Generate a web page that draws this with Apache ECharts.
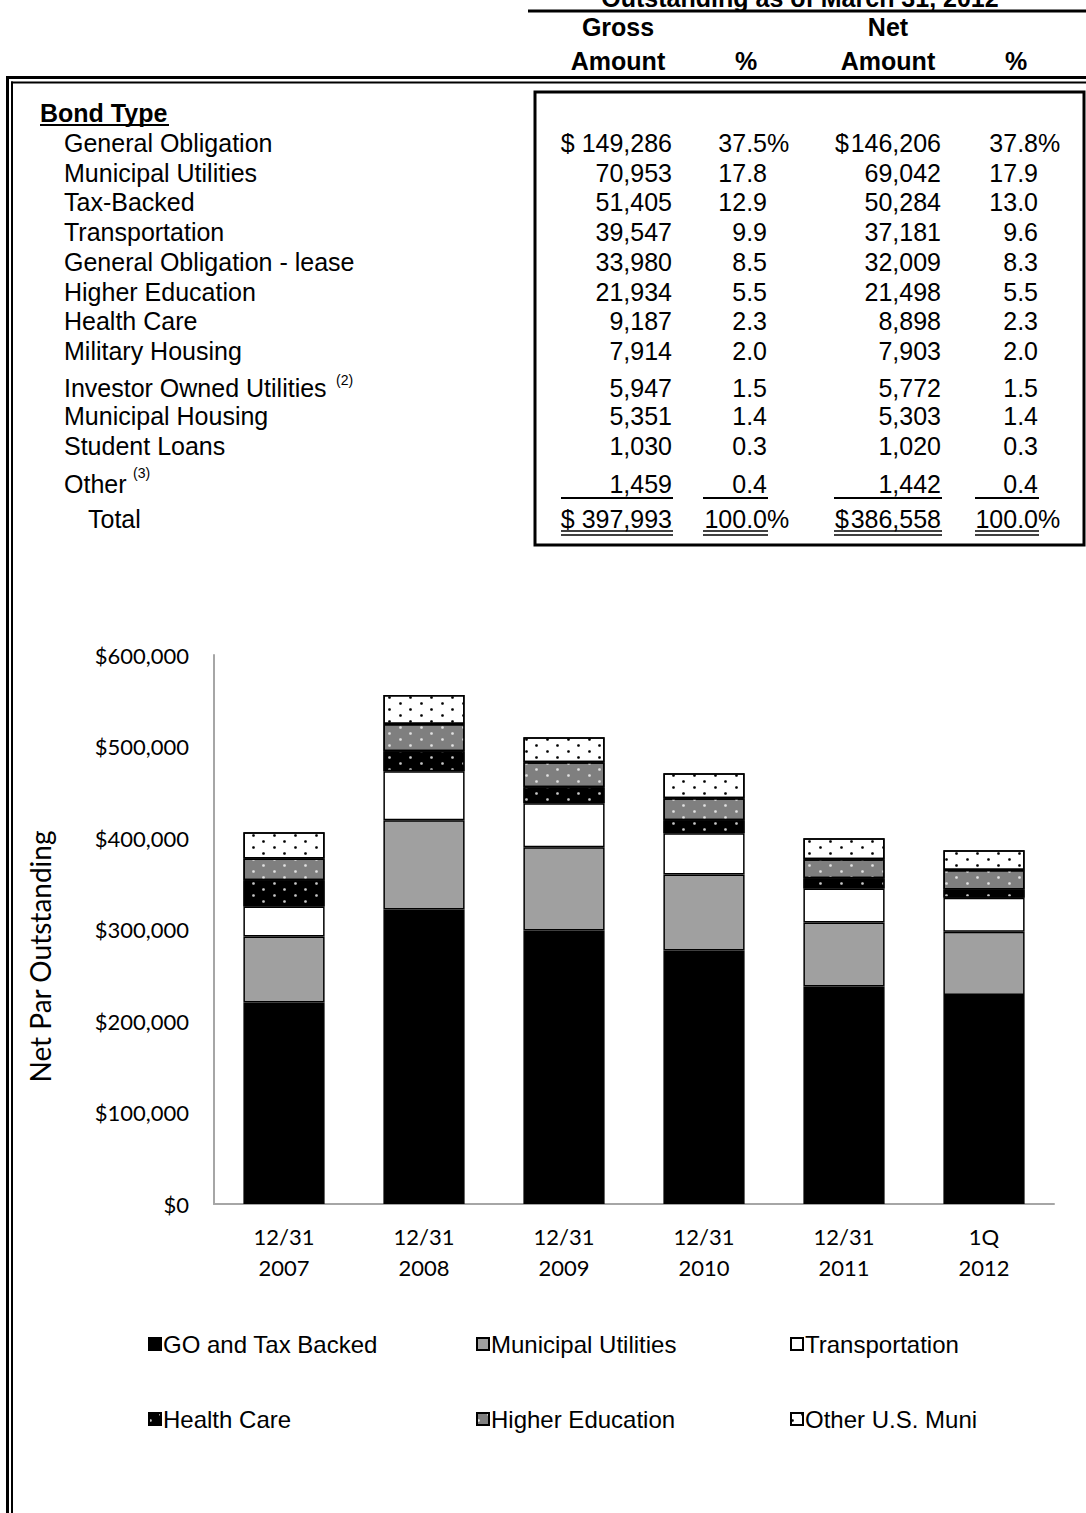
<!DOCTYPE html>
<html><head><meta charset="utf-8">
<script src="https://cdn.jsdelivr.net/npm/echarts@6/dist/echarts.min.js"></script>
<style>html,body{margin:0;padding:0;background:#fff}#c{width:1086px;height:1513px}</style>
</head><body><div id="c"></div>
<script>
// ---------- Table data ----------
const tableTitle = 'Outstanding as of March 31, 2012';
const bondTypes = ['General Obligation', 'Municipal Utilities', 'Tax-Backed', 'Transportation',
  'General Obligation - lease', 'Higher Education', 'Health Care', 'Military Housing',
  'Investor Owned Utilities', 'Municipal Housing', 'Student Loans', 'Other'];
const footnotes = ['', '', '', '', '', '', '', '', '(2)', '', '', '(3)'];
const grossAmount = [149286, 70953, 51405, 39547, 33980, 21934, 9187, 7914, 5947, 5351, 1030, 1459];
const grossPct = [37.5, 17.8, 12.9, 9.9, 8.5, 5.5, 2.3, 2.0, 1.5, 1.4, 0.3, 0.4];
const netAmount = [146206, 69042, 50284, 37181, 32009, 21498, 8898, 7903, 5772, 5303, 1020, 1442];
const netPct = [37.8, 17.9, 13.0, 9.6, 8.3, 5.5, 2.3, 2.0, 1.5, 1.4, 0.3, 0.4];
const grossTotal = 397993, netTotal = 386558, pctTotal = 100.0;

// ---------- Chart data ----------
const categories = ['12/31\n2007', '12/31\n2008', '12/31\n2009', '12/31\n2010', '12/31\n2011', '1Q\n2012'];
const seriesNames = ['GO and Tax Backed', 'Municipal Utilities', 'Transportation', 'Health Care', 'Higher Education', 'Other U.S. Muni'];
const goTaxBacked = [220100, 321900, 298900, 277000, 237600, 228499];
const municipalUtilities = [72200, 97500, 90900, 83200, 70100, 69042];
const transportation = [32900, 53600, 48200, 44900, 37200, 37181];
const healthCare = [28500, 21900, 17500, 14300, 11000, 8898];
const higherEducation = [24000, 29600, 27400, 24000, 20800, 21498];
const otherMuni = [28500, 31700, 27300, 27400, 22900, 21440];
const yTicks = [0, 100000, 200000, 300000, 400000, 500000, 600000];

// ---------- Layout ----------
const TF = '"Liberation Sans", Arial, sans-serif';
const CF = 'Lato, sans-serif';
const FS = 25;
const rowY = [143, 173, 202, 232, 262, 292, 321, 351, 388, 416, 446, 484];
const footX = {8: 336, 11: 133};
const footY = {8: 380, 11: 473};
const totalY = 519;
const fmt = v => v.toLocaleString('en-US');

const g = [];
function txt(x, y, s, o) {
  o = o || {};
  g.push({type: 'text', x: x, y: y, silent: true, style: {
    text: s, fill: '#000',
    font: (o.bold ? 'bold ' : '') + (o.size || FS) + 'px ' + TF,
    align: o.align || 'left', verticalAlign: 'middle'
  }});
}
function ln(x1, y1, x2, y2, w) {
  g.push({type: 'line', silent: true, shape: {x1: x1, y1: y1, x2: x2, y2: y2}, style: {stroke: '#000', lineWidth: w}});
}

// header
txt(800, -2, tableTitle, {bold: true, align: 'center'});
ln(528, 11, 1086, 11, 3);
txt(618, 27, 'Gross', {bold: true, align: 'center'});
txt(888, 27, 'Net', {bold: true, align: 'center'});
txt(618, 61, 'Amount', {bold: true, align: 'center'});
txt(746, 61, '%', {bold: true, align: 'center'});
txt(888, 61, 'Amount', {bold: true, align: 'center'});
txt(1016, 61, '%', {bold: true, align: 'center'});
// double frame lines
ln(6, 77.5, 1086, 77.5, 3);
ln(11, 82.5, 1086, 82.5, 2);
ln(7.5, 76, 7.5, 1513, 3);
ln(12, 81.5, 12, 1513, 2);
// box
g.push({type: 'rect', silent: true, shape: {x: 535, y: 92, width: 549, height: 453}, style: {fill: 'none', stroke: '#000', lineWidth: 3}});

txt(40, 113, 'Bond Type', {bold: true});
ln(40, 125, 169, 125, 2);

bondTypes.forEach((b, i) => {
  const y = rowY[i];
  txt(64, y, b);
  if (footnotes[i]) txt(footX[i], footY[i], footnotes[i], {size: 14});
  txt(672, y, (i === 0 ? '$ ' : '') + fmt(grossAmount[i]), {align: 'right'});
  txt(767, y, grossPct[i].toFixed(1), {align: 'right'});
  if (i === 0) txt(767, y, '%');
  if (i === 0) txt(835, y, '$');
  txt(941, y, fmt(netAmount[i]), {align: 'right'});
  txt(1038, y, netPct[i].toFixed(1), {align: 'right'});
  if (i === 0) txt(1038, y, '%');
});

// totals
txt(88, totalY, 'Total');
txt(672, totalY, '$ ' + fmt(grossTotal), {align: 'right'});
txt(767, totalY, pctTotal.toFixed(1), {align: 'right'});
txt(767, totalY, '%');
txt(835, totalY, '$');
txt(941, totalY, fmt(netTotal), {align: 'right'});
txt(1038, totalY, pctTotal.toFixed(1), {align: 'right'});
txt(1038, totalY, '%');
[[561, 673], [703, 768], [834, 942], [975, 1039]].forEach(r => {
  ln(r[0], 498, r[1], 498, 2);
  ln(r[0], 531, r[1], 531, 1.5);
  ln(r[0], 535, r[1], 535, 1.5);
});

// ---------- Chart ----------
function dots(color) {
  return {symbol: 'circle', symbolSize: 0.9, color: color, dashArrayX: [[3, 18], [0, 10, 3, 8]], dashArrayY: [3, 3], rotation: 0};
}
const fills = ['#000000', '#a0a0a0', '#ffffff', '#000000', '#7f7f7f', '#ffffff'];
const decals = [null, null, null, dots('#c8c8c8'), dots('#e2e2e2'), dots('#000000')];
const values = [goTaxBacked, municipalUtilities, transportation, healthCare, higherEducation, otherMuni];

const series = seriesNames.map((n, i) => {
  const st = {color: fills[i], borderColor: '#000', borderWidth: 1.5};
  if (decals[i]) st.decal = decals[i];
  return {name: n, type: 'bar', stack: 'total', barWidth: '58%', data: values[i], itemStyle: st, emphasis: {disabled: true}};
});

const legendPos = [[148, 1332], [476, 1332], [790, 1332], [148, 1407], [476, 1407], [790, 1407]];
const legends = seriesNames.map((n, i) => ({
  data: [n], left: legendPos[i][0], top: legendPos[i][1], padding: 0,
  icon: 'rect', itemWidth: 12, itemHeight: 12, itemGap: 0, selectedMode: false,
  textStyle: {fontFamily: TF, fontSize: 24, color: '#000', padding: [0, 0, 0, -3]}
}));

const chart = echarts.init(document.getElementById('c'), null, {renderer: 'svg'});
chart.setOption({
  animation: false,
  backgroundColor: '#fff',
  graphic: g,
  grid: {left: 214, right: 32, top: 655, bottom: 309},
  xAxis: {
    type: 'category', data: categories,
    axisLine: {lineStyle: {color: '#a6a6a6', width: 2}},
    axisTick: {show: false},
    axisLabel: {fontFamily: CF, fontSize: 22, color: '#000', margin: 17, lineHeight: 31}
  },
  yAxis: {
    type: 'value', min: yTicks[0], max: yTicks[yTicks.length - 1], interval: yTicks[1] - yTicks[0],
    axisLine: {show: true, lineStyle: {color: '#a6a6a6', width: 2}},
    axisTick: {show: false},
    splitLine: {show: false},
    axisLabel: {formatter: v => '$' + fmt(v), fontFamily: CF, fontSize: 22, color: '#000', margin: 25},
    name: 'Net Par Outstanding', nameLocation: 'middle', nameRotate: 90, nameGap: 160,
    nameTextStyle: {fontFamily: CF, fontSize: 28, color: '#000', padding: [0, 54, 0, 0]}
  },
  legend: legends,
  series: series
});
</script></body></html>
